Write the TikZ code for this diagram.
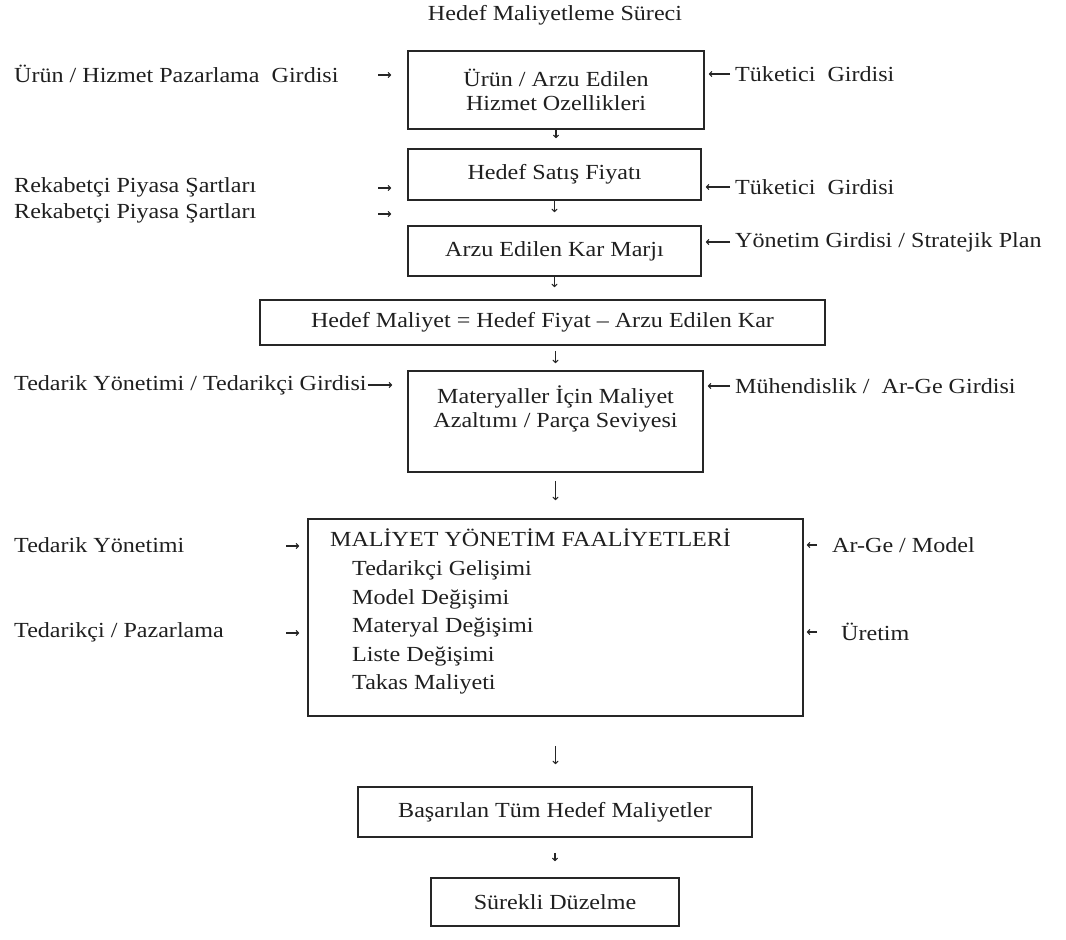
\documentclass[tikz,border=0pt]{standalone}
\usepackage{fontspec}
\setmainfont{Liberation Serif}[FakeStretch=1.12]
\usetikzlibrary{arrows.meta}

\begin{document}
\begin{tikzpicture}[x=1pt, y=-1pt,
    font=\fontsize{21.5}{24}\selectfont, text=black!88,
    box/.style={draw=black!85, line width=1.6pt, rectangle, align=center, inner sep=0pt},
    side/.style={anchor=west, inner sep=0pt},
    inarr/.style={->, >={To[length=3.5pt,width=6pt]}, line width=1.1pt, draw=black!85}]

    \useasboundingbox (0,0) rectangle (1066,940);

    % Titulo del proceso
    \node (title) at (555,15) {Hedef Maliyetleme Süreci};

    % Cajas principales del flujo
    \node (features) [box, minimum width=296, minimum height=78] at (556,90) {Ürün / Arzu Edilen\\Hizmet Ozellikleri};
    \node (price) [box, minimum width=293, minimum height=51] at (554.5,174.5) {Hedef Satış Fiyatı};
    \node (margin) [box, minimum width=293, minimum height=50] at (554.5,251) {Arzu Edilen Kar Marjı};
    \node (cost) [box, minimum width=565, minimum height=45] at (542.5,322.5) {Hedef Maliyet = Hedef Fiyat – Arzu Edilen Kar};
    \node (material) [box, minimum width=295, minimum height=101] at (555.5,421.5) {};
    \node (materialtxt) [align=center, inner sep=0pt] at (555.5,409) {Materyaller İçin Maliyet\\Azaltımı / Parça Seviyesi};
    \node (activities) [box, minimum width=495, minimum height=197] at (555.5,617.5) {};
    \node (activitiestxt) [anchor=north west, align=left, inner sep=0pt, font=\fontsize{21.5}{28.6}\selectfont] at (330,529)
    {MALİYET YÖNETİM FAALİYETLERİ\\\hspace*{22pt}Tedarikçi Gelişimi\\\hspace*{22pt}Model Değişimi\\\hspace*{22pt}Materyal Değişimi\\\hspace*{22pt}Liste Değişimi\\\hspace*{22pt}Takas Maliyeti};
    \node (achieved) [box, minimum width=394, minimum height=50] at (555,812) {Başarılan Tüm Hedef Maliyetler};
    \node (improve) [box, minimum width=248, minimum height=48] at (555,902) {Sürekli Düzelme};

    % Girdis a la izquierda
    \node (mkt) [side] at (14,74) {Ürün / Hizmet Pazarlama \ Girdisi};
    \node (comp1) [side] at (14,187) {Rekabetçi Piyasa Şartları};
    \node (comp2) [side] at (14,213) {Rekabetçi Piyasa Şartları};
    \node (supply) [side] at (14,385) {Tedarik Yönetimi / Tedarikçi Girdisi};
    \node (supmgmt) [side] at (14,545) {Tedarik Yönetimi};
    \node (supmkt) [side] at (14,632) {Tedarikçi / Pazarlama};

    % Girdis a la derecha
    \node (cons1) [side] at (735,74) {Tüketici \ Girdisi};
    \node (cons2) [side] at (735,187) {Tüketici \ Girdisi};
    \node (mgmt) [side] at (735,242) {Yönetim Girdisi / Stratejik Plan};
    \node (eng) [side] at (735,386) {Mühendislik / \ Ar-Ge Girdisi};
    \node (rnd) [side] at (832,545) {Ar-Ge / Model};
    \node (prod) [side] at (841,632) {Üretim};

    % Puntos de salida de las flechas cortas
    \coordinate (t1) at (378,75);
    \coordinate (t2) at (378,188);
    \coordinate (t3) at (378,214);
    \coordinate (t5) at (286,546);
    \coordinate (t6) at (286,633);

    % Flechas desde la izquierda
    \draw[inarr, shorten >=16pt] (t1) -- (t1 -| features.west);
    \draw[inarr, shorten >=16pt] (t2) -- (t2 -| price.west);
    \draw[inarr, shorten >=16pt] (t3) -- (t3 -| margin.west);
    \draw[inarr, shorten <=1pt, shorten >=15pt] (supply.east) -- (supply.east -| material.west);
    \draw[inarr, shorten >=8pt] (t5) -- (t5 -| activities.west);
    \draw[inarr, shorten >=8pt] (t6) -- (t6 -| activities.west);

    % Flechas desde la derecha
    \draw[inarr, shorten <=5pt, shorten >=4pt] (cons1.west) -- (cons1.west -| features.east);
    \draw[inarr, shorten <=5pt, shorten >=4pt] (cons2.west) -- (cons2.west -| price.east);
    \draw[inarr, shorten <=5pt, shorten >=4pt] (mgmt.west) -- (mgmt.west -| margin.east);
    \draw[inarr, shorten <=5pt, shorten >=4pt] (eng.west) -- (eng.west -| material.east);
    \draw[inarr, shorten <=15pt, shorten >=3pt] (rnd.west) -- (rnd.west -| activities.east);
    \draw[inarr, shorten <=24pt, shorten >=3pt] (prod.west) -- (prod.west -| activities.east);

    % Flechas hacia abajo
    \draw[inarr, shorten >=10pt] (features.south) -- (features.south |- price.north);
    \draw[inarr, shorten >=13pt] (price.south) -- (price.south |- margin.north);
    \draw[inarr, shorten >=12pt] (margin.south) -- (margin.south |- cost.north);
    \draw[inarr, shorten <=5pt, shorten >=7pt] (material.north |- cost.south) -- (material.north);
    \draw[inarr, shorten <=8pt, shorten >=18pt] (material.south) -- (material.south |- activities.north);
    \draw[inarr, shorten <=29pt, shorten >=22pt] (activities.south) -- (activities.south |- achieved.north);
    \draw[inarr, shorten <=15pt, shorten >=16pt] (achieved.south) -- (achieved.south |- improve.north);

\end{tikzpicture}
\end{document}
